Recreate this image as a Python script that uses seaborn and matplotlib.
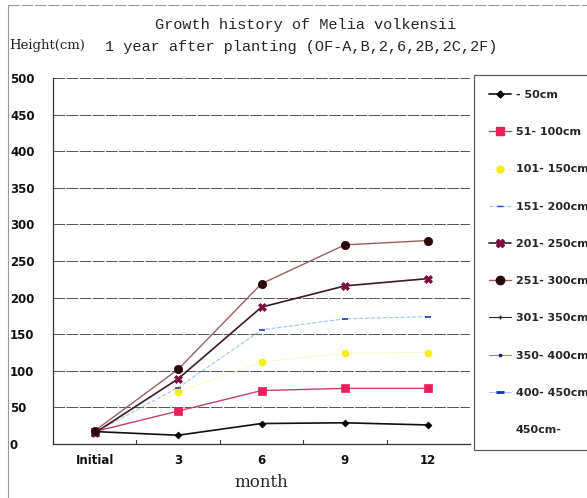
import matplotlib
matplotlib.use("Agg")
import matplotlib.pyplot as plt
from matplotlib.lines import Line2D
import seaborn as sns
import pandas as pd

# Growth of Melia volkensii seedlings by initial height class
months = ["Initial", "3", "6", "9", "12"]
h_050 = [17, 12, 28, 29, 26]
h_051_100 = [17, 45, 73, 76, 76]
h_101_150 = [17, 71, 112, 124, 125]
h_151_200 = [16, 77, 156, 171, 174]
h_201_250 = [15, 89, 187, 216, 226]
h_251_300 = [18, 102, 219, 272, 278]

class_labels = ["- 50cm", "51- 100cm", "101- 150cm", "151- 200cm", "201- 250cm",
                "251- 300cm", "301- 350cm", "350- 400cm", "400- 450cm", "450cm-"]
y_ticks = [0, 50, 100, 150, 200, 250, 300, 350, 400, 450, 500]

series = [h_050, h_051_100, h_101_150, h_151_200, h_201_250, h_251_300]
rows = []
for lab, vals in zip(class_labels, series):
    for m, v in zip(months, vals):
        rows.append({"month": m, "height": v, "cls": lab})
df = pd.DataFrame(rows)

sns.set_theme(style="white")
plt.rcParams["font.family"] = ["DejaVu Sans"]

fig = plt.figure(figsize=(5.87, 4.98), dpi=100)
ax = fig.add_axes([0.0903, 0.1084, 0.7104, 0.735])

# per-class styling: line colour, marker, marker colour, marker size, line width, dashes
styles = {
    "- 50cm": dict(color="#111111", marker="D", mfc="#000000", ms=3.5, lw=1.2, ls="-"),
    "51- 100cm": dict(color="#c8406a", marker="s", mfc="#e8205a", ms=6, lw=1.0, ls="-"),
    "101- 150cm": dict(color="#fff6a0", marker="o", mfc="#f5ee10", ms=5, lw=0.4, ls="-"),
    "151- 200cm": dict(color="#9ec4ea", marker="_", mfc="#2040b0", ms=4, lw=0.8, ls="--"),
    "201- 250cm": dict(color="#3a1a2a", marker="X", mfc="#7a1040", ms=5.5, lw=1.2, ls="-"),
    "251- 300cm": dict(color="#9a6060", marker="o", mfc="#2a0808", ms=6, lw=1.0, ls="-"),
}

for lab in class_labels[:6]:
    st = styles[lab]
    sub = df[df["cls"] == lab]
    sns.lineplot(data=sub, x="month", y="height", ax=ax, color=st["color"],
                 linewidth=st["lw"], linestyle=st["ls"], marker=st["marker"],
                 markersize=st["ms"], markerfacecolor=st["mfc"],
                 markeredgecolor=st["mfc"], markeredgewidth=1.2 if st["marker"] == "_" else 0.5,
                 sort=False, legend=False)

ax.set_xlim(-0.5, 4.5)
ax.set_ylim(0, 500)
ax.set_yticks(y_ticks)
ax.set_yticklabels([str(t) for t in y_ticks], fontsize=8.5, fontweight="bold",
                   ha="left", color="#111111")
ax.tick_params(axis="y", direction="out", length=4, width=0.8, pad=27, color="#333333")
ax.set_xticks(range(len(months)))
ax.set_xticklabels(months, fontsize=8.5, fontweight="bold", color="#111111")
ax.tick_params(axis="x", length=0, pad=7)
# small tick marks between categories
for b in [0.5, 1.5, 2.5, 3.5]:
    ax.plot([b, b], [0, 5], color="#333333", lw=0.8, clip_on=False)
ax.set_xlabel("month", fontsize=12, family="DejaVu Serif", labelpad=5)
ax.set_ylabel("")
ax.yaxis.grid(True, color="#555555", linewidth=0.7, linestyle=(0, (12, 1.5)))
ax.xaxis.grid(False)
for side in ["top", "right"]:
    ax.spines[side].set_visible(False)
for side in ["left", "bottom"]:
    ax.spines[side].set_color("#333333")
    ax.spines[side].set_linewidth(0.9)

# legend covering every height class, including those without data
handles = []
for lab in class_labels[:6]:
    st = styles[lab]
    handles.append(Line2D([], [], color=st["color"], lw=st["lw"], ls=st["ls"],
                          marker=st["marker"], ms=st["ms"], mfc=st["mfc"], mec=st["mfc"]))
handles.append(Line2D([], [], color="#222222", lw=0.8, marker="+", ms=3, mec="#222222"))
handles.append(Line2D([], [], color="#8888d8", lw=0.8, marker="s", ms=2, mfc="#1a1a70", mec="#1a1a70"))
handles.append(Line2D([], [], color="#a8c8ff", lw=0.8, marker="_", ms=6, mec="#1030c0", mew=2))
handles.append(Line2D([], [], color="none", lw=0))
leg = fig.legend(handles, class_labels, loc="upper left",
                 bbox_to_anchor=(474 / 587, 1 - 75 / 498), frameon=True, fancybox=False,
                 borderaxespad=0, handlelength=2.0, handletextpad=0.4, labelspacing=2.45,
                 borderpad=1.35, prop={"size": 8, "weight": "bold"})
leg.get_frame().set_edgecolor("#333333")
leg.get_frame().set_linewidth(0.9)

# titles
fig.text(155 / 587, 1 - 25 / 498, "Growth history of Melia volkensii", fontsize=11,
         family="Liberation Mono", va="center", ha="left")
fig.text(105 / 587, 1 - 47 / 498, "1 year after planting (OF-A,B,2,6,2B,2C,2F)", fontsize=11,
         family="Liberation Mono", va="center", ha="left")
fig.text(9 / 587, 1 - 46 / 498, "Height(cm)", fontsize=9.5, family="DejaVu Serif",
         va="center", ha="left")

# chart frame lines
fig.add_artist(Line2D([8 / 587, 8 / 587], [0.0, 1 - 5 / 498], color="#999999", lw=0.8,
                      transform=fig.transFigure))
fig.add_artist(Line2D([8 / 587, 1.0], [1 - 5 / 498, 1 - 5 / 498], color="#999999", lw=0.8,
                      ls=(0, (10, 2)), transform=fig.transFigure))

fig.savefig("out.png", dpi=100)
